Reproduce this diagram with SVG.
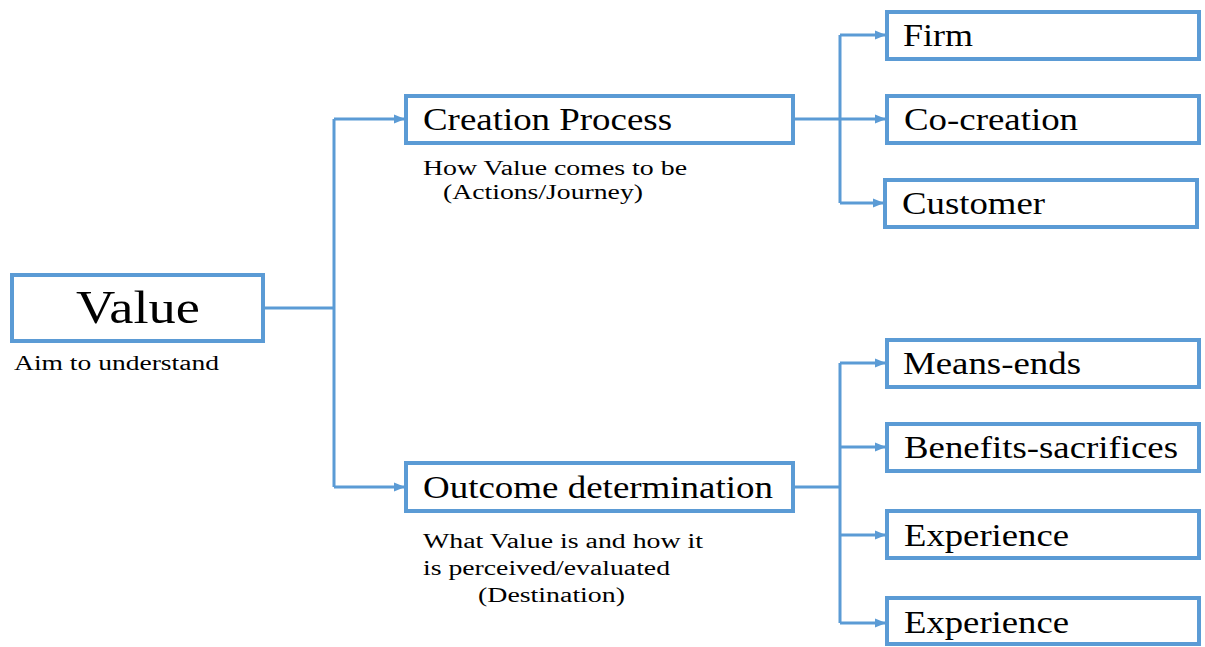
<svg xmlns="http://www.w3.org/2000/svg" width="1205" height="647" viewBox="0 0 1205 647">
<style>
.box{fill:#fff;stroke:#5B9BD5;stroke-width:4}
.t{font-family:"Liberation Serif","Times New Roman",serif;fill:#000}
.lbl{font-size:31px}
.sub{font-size:20px}
.con{fill:none;stroke:#5B9BD5;stroke-width:3}
</style>
<defs>
<marker id="ah" markerWidth="11" markerHeight="10" refX="10" refY="5" orient="auto" markerUnits="userSpaceOnUse">
<path d="M0,0.5 L11,5 L0,9.5 Z" fill="#5B9BD5"/>
</marker>
</defs>
<rect width="1205" height="647" fill="#fff"/>
<g id="connectors">
<path class="con" d="M264,308 H334"/>
<path class="con" d="M334,119 V487"/>
<path class="con" d="M334,119 H404" marker-end="url(#ah)"/>
<path class="con" d="M334,487 H404" marker-end="url(#ah)"/>
<path class="con" d="M794,119 H840"/>
<path class="con" d="M840,35 V203"/>
<path class="con" d="M840,35 H885" marker-end="url(#ah)"/>
<path class="con" d="M840,119 H885" marker-end="url(#ah)"/>
<path class="con" d="M840,203 H883" marker-end="url(#ah)"/>
<path class="con" d="M794,487 H840"/>
<path class="con" d="M840,363 V623"/>
<path class="con" d="M840,363 H885" marker-end="url(#ah)"/>
<path class="con" d="M840,447 H885" marker-end="url(#ah)"/>
<path class="con" d="M840,535 H885" marker-end="url(#ah)"/>
<path class="con" d="M840,623 H885" marker-end="url(#ah)"/>
</g>
<g id="value" font-family="Liberation Serif, serif">
<rect class="box" x="12" y="275" width="251" height="66"/>
<text class="t" x="76" y="323" font-size="46" textLength="124" lengthAdjust="spacingAndGlyphs">Value</text>
<text class="t sub" x="14" y="370" textLength="205" lengthAdjust="spacingAndGlyphs">Aim to understand</text>
</g>
<g id="creation" font-family="Liberation Serif, serif">
<rect class="box" x="406" y="96" width="387" height="47"/>
<text class="t lbl" x="423" y="130" textLength="249" lengthAdjust="spacingAndGlyphs">Creation Process</text>
<text class="t sub" x="423" y="175" textLength="264" lengthAdjust="spacingAndGlyphs">How Value comes to be</text>
<text class="t sub" x="443" y="199" textLength="200" lengthAdjust="spacingAndGlyphs">(Actions/Journey)</text>
</g>
<g id="outcome" font-family="Liberation Serif, serif">
<rect class="box" x="406" y="463" width="387" height="48"/>
<text class="t lbl" x="423" y="498" textLength="350" lengthAdjust="spacingAndGlyphs">Outcome determination</text>
<text class="t sub" x="423" y="548" textLength="280" lengthAdjust="spacingAndGlyphs">What Value is and how it</text>
<text class="t sub" x="423" y="575" textLength="247" lengthAdjust="spacingAndGlyphs">is perceived/evaluated</text>
<text class="t sub" x="478" y="602" textLength="147" lengthAdjust="spacingAndGlyphs">(Destination)</text>
</g>
<g id="firm" font-family="Liberation Serif, serif">
<rect class="box" x="887" y="12" width="312" height="47"/>
<text class="t lbl" x="903" y="46" textLength="70" lengthAdjust="spacingAndGlyphs">Firm</text>
</g>
<g id="cocreation" font-family="Liberation Serif, serif">
<rect class="box" x="887" y="96" width="312" height="47"/>
<text class="t lbl" x="904" y="130" textLength="174" lengthAdjust="spacingAndGlyphs">Co-creation</text>
</g>
<g id="customer" font-family="Liberation Serif, serif">
<rect class="box" x="885" y="180" width="312" height="47"/>
<text class="t lbl" x="902" y="214" textLength="143" lengthAdjust="spacingAndGlyphs">Customer</text>
</g>
<g id="meansends" font-family="Liberation Serif, serif">
<rect class="box" x="887" y="340" width="312" height="47"/>
<text class="t lbl" x="903" y="374" textLength="178" lengthAdjust="spacingAndGlyphs">Means-ends</text>
</g>
<g id="benefits" font-family="Liberation Serif, serif">
<rect class="box" x="887" y="424" width="312" height="47"/>
<text class="t lbl" x="904" y="458" textLength="274" lengthAdjust="spacingAndGlyphs">Benefits-sacrifices</text>
</g>
<g id="experience1" font-family="Liberation Serif, serif">
<rect class="box" x="887" y="511" width="312" height="47"/>
<text class="t lbl" x="904" y="546" textLength="165" lengthAdjust="spacingAndGlyphs">Experience</text>
</g>
<g id="experience2" font-family="Liberation Serif, serif">
<rect class="box" x="887" y="598" width="312" height="46"/>
<text class="t lbl" x="904" y="633" textLength="165" lengthAdjust="spacingAndGlyphs">Experience</text>
</g>
</svg>
